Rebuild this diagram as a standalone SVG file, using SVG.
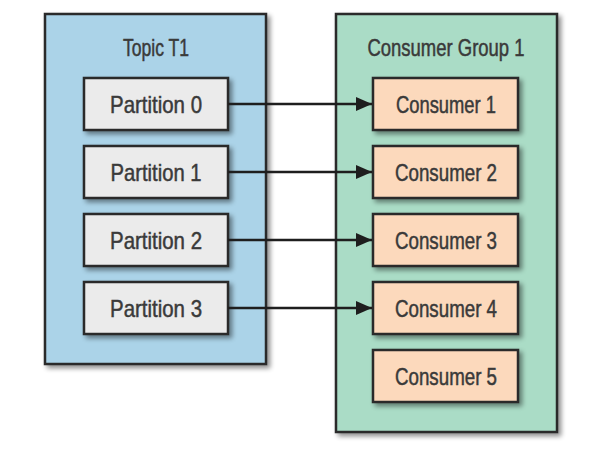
<svg xmlns="http://www.w3.org/2000/svg" width="592" height="454" viewBox="0 0 592 454">
  <defs>
    <filter id="sh" x="-10%" y="-10%" width="130%" height="130%">
      <feGaussianBlur in="SourceAlpha" stdDeviation="2.5"/>
      <feOffset dx="3" dy="3" result="b"/>
      <feComponentTransfer><feFuncA type="linear" slope="0.45"/></feComponentTransfer>
      <feMerge><feMergeNode/><feMergeNode in="SourceGraphic"/></feMerge>
    </filter>
    <marker id="arr" markerWidth="16" markerHeight="14" refX="16" refY="7" orient="auto" markerUnits="userSpaceOnUse">
      <path d="M0,0 L16,7 L0,14 Z" fill="#1e1e1e"/>
    </marker>
    <style>
      .outer { stroke: #2a2a2a; stroke-width: 2.5; filter: url(#sh); }
      .topic { fill: #abd3e8; }
      .group { fill: #aadcc6; }
      .part { fill: #ebebeb; stroke: #2a2a2a; stroke-width: 2.5; filter: url(#sh); }
      .cons { fill: #fcd9bc; stroke: #2a2a2a; stroke-width: 2.5; filter: url(#sh); }
      text { font-family: "Liberation Sans", Arial, sans-serif; font-size: 24px; fill: #3a3a3a; stroke: #3a3a3a; stroke-width: 0.5; text-anchor: middle; }
      .conn line { stroke: #1e1e1e; stroke-width: 2.5; marker-end: url(#arr); }
    </style>
  </defs>

  <g id="topic-t1">
    <rect class="outer topic" x="45" y="14" width="221" height="350"/>
    <text x="156" y="56" textLength="66" lengthAdjust="spacingAndGlyphs">Topic T1</text>
  </g>
  <g id="consumer-group-1">
    <rect class="outer group" x="336" y="14" width="221" height="418"/>
    <text x="446" y="56" textLength="157" lengthAdjust="spacingAndGlyphs">Consumer Group 1</text>
  </g>

  <g id="partition-0">
    <rect class="part" x="84" y="78" width="144" height="52"/>
    <text x="156" y="113" textLength="92" lengthAdjust="spacingAndGlyphs">Partition 0</text>
  </g>
  <g id="partition-1">
    <rect class="part" x="84" y="146" width="144" height="52"/>
    <text x="156" y="181" textLength="91" lengthAdjust="spacingAndGlyphs">Partition 1</text>
  </g>
  <g id="partition-2">
    <rect class="part" x="84" y="214" width="144" height="52"/>
    <text x="156" y="249" textLength="92" lengthAdjust="spacingAndGlyphs">Partition 2</text>
  </g>
  <g id="partition-3">
    <rect class="part" x="84" y="282" width="144" height="52"/>
    <text x="156" y="317" textLength="92" lengthAdjust="spacingAndGlyphs">Partition 3</text>
  </g>

  <g id="consumer-1">
    <rect class="cons" x="373" y="78" width="145" height="52"/>
    <text x="446" y="113" textLength="100" lengthAdjust="spacingAndGlyphs">Consumer 1</text>
  </g>
  <g id="consumer-2">
    <rect class="cons" x="373" y="146" width="145" height="52"/>
    <text x="446" y="181" textLength="102" lengthAdjust="spacingAndGlyphs">Consumer 2</text>
  </g>
  <g id="consumer-3">
    <rect class="cons" x="373" y="214" width="145" height="52"/>
    <text x="446" y="249" textLength="102" lengthAdjust="spacingAndGlyphs">Consumer 3</text>
  </g>
  <g id="consumer-4">
    <rect class="cons" x="373" y="282" width="145" height="52"/>
    <text x="446" y="317" textLength="102" lengthAdjust="spacingAndGlyphs">Consumer 4</text>
  </g>
  <g id="consumer-5">
    <rect class="cons" x="373" y="350" width="145" height="52"/>
    <text x="446" y="385" textLength="102" lengthAdjust="spacingAndGlyphs">Consumer 5</text>
  </g>

  <g id="connectors" class="conn">
    <line x1="228" y1="104" x2="372" y2="104"/>
    <line x1="228" y1="172" x2="372" y2="172"/>
    <line x1="228" y1="240" x2="372" y2="240"/>
    <line x1="228" y1="308" x2="372" y2="308"/>
  </g>
</svg>
